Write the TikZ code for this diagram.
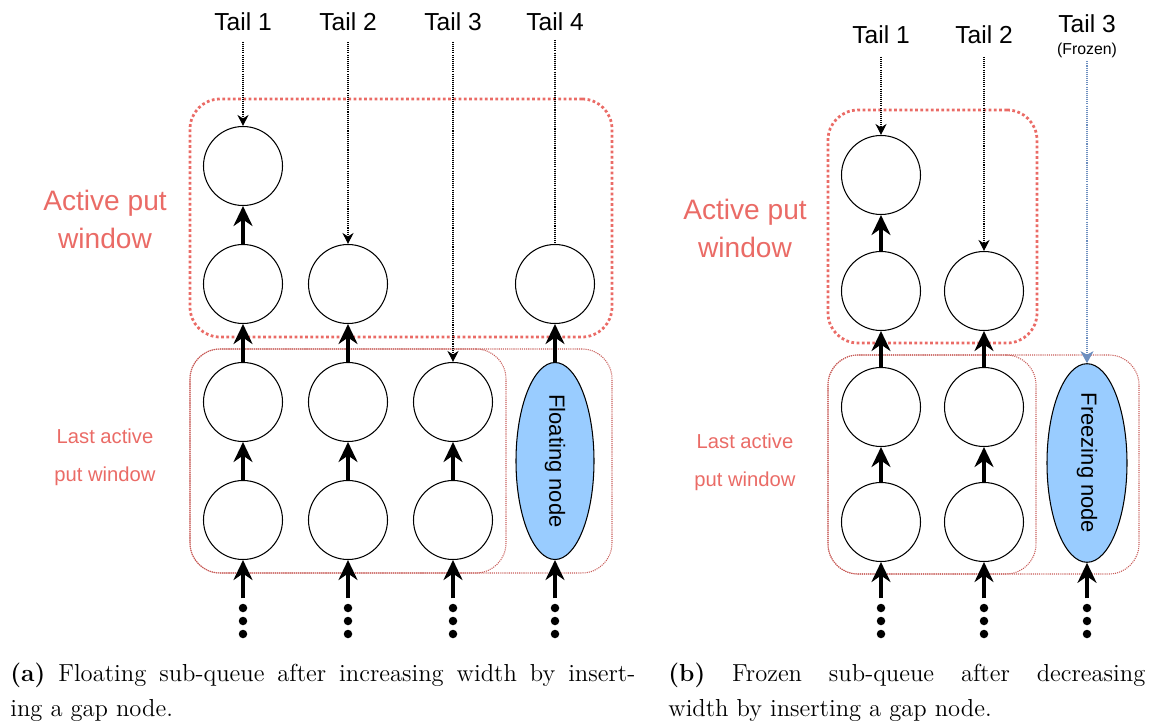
\documentclass[tikz,border=0pt]{standalone}
\usepackage{fontspec}
\newfontfamily\diagfont{Liberation Sans}
\usetikzlibrary{arrows.meta,shapes.geometric}
\definecolor{winred}{HTML}{EA6B66}
\definecolor{nodeblue}{HTML}{99CCFF}
\definecolor{frozenblue}{HTML}{6C8EBF}

\begin{document}
\begin{tikzpicture}[
  x=0.2mm, y=-0.2mm,
  qnode/.style={
    draw,
    circle,
    line width=0.6pt,
    minimum size=15.8mm,
    inner sep=0pt
  },
  gapnode/.style={
    draw,
    ellipse,
    fill=nodeblue,
    rotate=-90,
    line width=0.6pt,
    inner sep=0pt,
    font=\diagfont\fontsize{12.5}{15}\selectfont
  },
  dot/.style={circle, fill, inner sep=0pt, minimum size=1.7mm},
  taillabel/.style={font=\diagfont\fontsize{14}{17}\selectfont, inner sep=2pt},
  smalllabel/.style={font=\diagfont\fontsize{9}{11}\selectfont, inner sep=2pt},
  winlabel/.style={text=winred, align=center, font=\diagfont\fontsize{16}{21.6}\selectfont},
  lastlabel/.style={text=winred, align=center, font=\diagfont\fontsize{11.5}{21.5}\selectfont},
  fine/.style={dash pattern=on 0.6pt off 0.6pt},
  activebox/.style={draw=winred, rounded corners=6mm, line width=0.55mm, dash pattern=on 0.55mm off 0.5mm},
  lastbox/.style={draw=winred!85!black, rounded corners=6mm, line width=0.6pt, fine},
  link/.style={-{Stealth[length=4mm, width=3.8mm, inset=1.3mm]}, line width=1.9pt},
  tailedge/.style={-{Stealth[length=2.2mm, width=2.2mm, inset=0.7mm]}, fine, line width=0.6pt},
  frozenedge/.style={tailedge, draw=frozenblue, -{Stealth[length=2.4mm, width=2.6mm, inset=0.7mm, fill=frozenblue]}},
  caption/.style={align=justify, text width=#1, font=\fontsize{14}{19.9}\selectfont, inner sep=0pt, anchor=north west}
]
  \useasboundingbox (0,0) rectangle (1157,724);

  % (a) windows
  \node[activebox, minimum width=84.4mm, minimum height=47.6mm] (awin) at (401,218) {};
  \node[lastbox, minimum width=63.2mm, minimum height=44.8mm] (alastin) at (348,461) {};
  \node[lastbox, minimum width=84.4mm, minimum height=44.8mm] (alastout) at (401,461) {};
  \node[winlabel] (awinlbl) at (105,219) {Active put\\window};
  \node[lastlabel] (alastlbl) at (105,457) {Last active\\put window};

  % (a) sub-queues
  \node[qnode] (a11) at (243,166) {};
  \node[qnode] (a12) at (243,284) {};
  \node[qnode] (a13) at (243,402) {};
  \node[qnode] (a14) at (243,520) {};
  \node[qnode] (a22) at (348,284) {};
  \node[qnode] (a23) at (348,402) {};
  \node[qnode] (a24) at (348,520) {};
  \node[qnode] (a33) at (453,402) {};
  \node[qnode] (a34) at (453,520) {};
  \node[qnode] (a42) at (555,284) {};
  \node[gapnode, minimum width=39.4mm, minimum height=15.6mm] (a4g) at (555,461) {Floating node};

  \node[taillabel] (ta1) at (243,22) {Tail 1};
  \node[taillabel] (ta2) at (348,22) {Tail 2};
  \node[taillabel] (ta3) at (453,22) {Tail 3};
  \node[taillabel] (ta4) at (555,22) {Tail 4};

  \draw[tailedge, shorten <=1.4mm] (ta1) -- (a11);
  \draw[tailedge, shorten <=1.4mm] (ta2) -- (a22);
  \draw[tailedge, shorten <=1.4mm] (ta3) -- (a33);
  \draw[fine, line width=0.6pt, shorten <=1mm] (ta4) -- (a42);

  \draw[link] (a14) -- (a13);
  \draw[link] (a13) -- (a12);
  \draw[link] (a12) -- (a11);
  \draw[link] (a24) -- (a23);
  \draw[link] (a23) -- (a22);
  \draw[link] (a34) -- (a33);
  \draw[link] (a4g) -- (a42);

  % (b) windows
  \node[activebox, minimum width=41.8mm, minimum height=46.6mm] (bwin) at (932.5,226.5) {};
  \node[lastbox, minimum width=41.6mm, minimum height=43.8mm] (blastin) at (932,464.5) {};
  \node[lastbox, minimum width=62.2mm, minimum height=43.8mm] (blastout) at (983.5,464.5) {};
  \node[winlabel] (bwinlbl) at (745,228) {Active put\\window};
  \node[lastlabel] (blastlbl) at (745,462) {Last active\\put window};

  % (b) sub-queues
  \node[qnode] (b11) at (881,175) {};
  \node[qnode] (b12) at (881,291) {};
  \node[qnode] (b13) at (881,407) {};
  \node[qnode] (b14) at (881,522) {};
  \node[qnode] (b22) at (984,291) {};
  \node[qnode] (b23) at (984,407) {};
  \node[qnode] (b24) at (984,522) {};
  \node[gapnode, minimum width=38.6mm, minimum height=16mm] (b3g) at (1087,463) {Freezing node};

  \node[taillabel] (tb1) at (881,35) {Tail 1};
  \node[taillabel] (tb2) at (984,35) {Tail 2};
  \node[taillabel] (tb3) at (1087,24) {Tail 3};
  \node[smalllabel] (frz) at (1087,50) {(Frozen)};

  \draw[tailedge, shorten <=1.8mm] (tb1) -- (b11);
  \draw[tailedge, shorten <=1.8mm] (tb2) -- (b22);
  \draw[frozenedge] (frz) -- (b3g);

  \draw[link] (b14) -- (b13);
  \draw[link] (b13) -- (b12);
  \draw[link] (b12) -- (b11);
  \draw[link] (b24) -- (b23);
  \draw[link] (b23) -- (b22);

  % the rest of each sub-queue
  \foreach \c/\x/\t in {a1/243/a14, a2/348/a24, a3/453/a34, a4/555/a4g,
                        b1/881/b14, b2/984/b24, b3/1087/b3g} {
    \node[dot] (\c d1) at (\x,608) {};
    \node[dot] (\c d2) at (\x,621) {};
    \node[dot] (\c d3) at (\x,634) {};
    \draw[link, shorten <=1mm] (\c d1) -- (\t);
  }

  % captions
  \node[caption=125mm] (capa) at (10,663)
    {\textbf{(a)} Floating sub-queue after increasing width by insert-\linebreak ing a gap node.};
  \node[caption=95.4mm] (capb) at (668,663)
    {\textbf{(b)} Frozen sub-queue after decreasing\linebreak width by inserting a gap node.};
\end{tikzpicture}
\end{document}
